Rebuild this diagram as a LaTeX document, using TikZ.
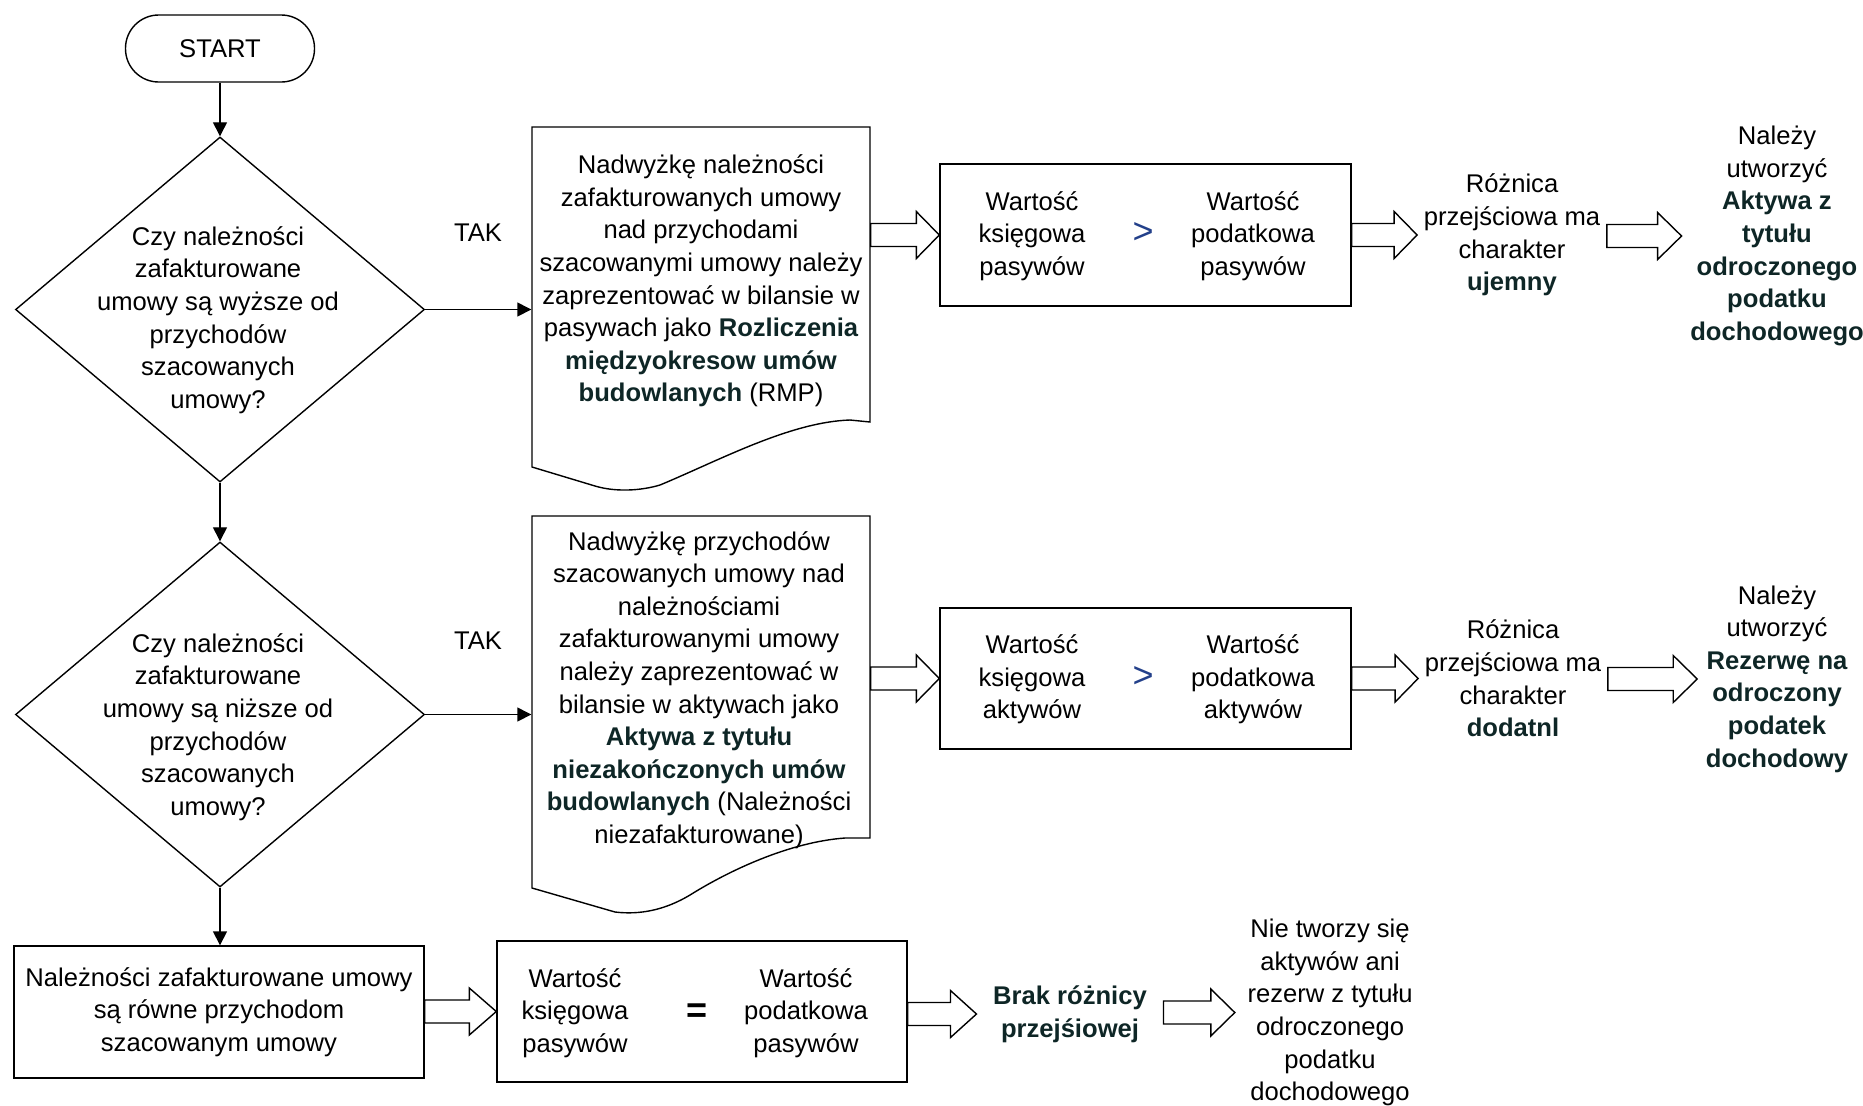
\documentclass[tikz,border=0pt]{standalone}
\usepackage{fontspec}
\setmainfont{Liberation Sans}
\usetikzlibrary{shapes.geometric,arrows.meta,calc}
\definecolor{boldc}{HTML}{0E2626}
\definecolor{gtc}{HTML}{23408A}
\newcommand{\bt}[1]{{\bfseries\color{boldc}#1}}
\newcommand{\blockarr}[3]{\draw[barrow] let \p1=#1, \p2=#2 in
  (\x1,\y2+5.75pt) -- (\x2-#3,\y2+5.75pt) -- (\x2-#3,\y2+11.75pt) -- (\x2,\y2)
  -- (\x2-#3,\y2-11.75pt) -- (\x2-#3,\y2-5.75pt) -- (\x1,\y2-5.75pt) -- cycle;}
\begin{document}
\begin{tikzpicture}[x=0.5pt,y=-0.5pt,line width=0.7pt,
  font=\fontsize{12.8}{16.3}\selectfont,
  lbl/.style={align=center,inner sep=0pt},
  box/.style={draw,rectangle,inner sep=0pt,align=center},
  terminal/.style={draw,rectangle,rounded corners=16.6pt,minimum width=94.5pt,minimum height=33.5pt,inner sep=0pt},
  dia/.style={draw,diamond,inner sep=0pt,minimum width=204.5pt,minimum height=172.5pt},
  area/.style={rectangle,inner sep=0pt,minimum width=169pt},
  conn/.style={-{Triangle[length=7pt,width=7pt]}},
  barrow/.style={draw,fill=white,line join=miter},
  gt/.style={inner sep=0pt,text=gtc,font=\fontsize{18}{18}\selectfont},
  eq/.style={inner sep=0pt,font=\fontsize{18}{18}\selectfont\bfseries}]
\useasboundingbox (0,0) rectangle (1863,1105);

% START and decisions
\node[terminal] (start) at (220,48.5) {START};
\node[dia] (d1) at (220,309.5) {};
\node[lbl] (d1t) at (218,320) {Czy należności\\zafakturowane\\umowy są wyższe od\\przychodów\\szacowanych\\umowy?};
\node[dia] (d2) at (220,714.5) {};
\node[lbl] (d2t) at (218,727) {Czy należności\\zafakturowane\\umowy są niższe od\\przychodów\\szacowanych\\umowy?};
\node[lbl] (tak1) at (478,233) {TAK};
\node[lbl] (tak2) at (478,641) {TAK};

% document shapes
\node[area,minimum height=170pt] (doc1) at (701,297) {};
\draw (532,127) -- (870,127) -- (870,422) -- (850,420)
  .. controls (790,422) and (720,460) .. (660,485)
  .. controls (640,491) and (615,492) .. (595,486) -- (532,467) -- cycle;
\node[lbl] (doc1t) at (701,281) {Nadwyżkę należności\\zafakturowanych umowy\\nad przychodami\\szacowanymi umowy należy\\zaprezentować w bilansie w\\pasywach jako \bt{Rozliczenia}\\\bt{międzyokresow umów}\\\bt{budowlanych} (RMP)};

\node[area,minimum height=186pt] (doc2) at (701,702) {};
\draw (532,516) -- (870,516) -- (870,838) -- (845,838)
  .. controls (790,842) and (730,870) .. (690,895)
  .. controls (665,910) and (640,915) .. (615,912) -- (532,888) -- cycle;
\node[lbl] (doc2t) at (699,690) {Nadwyżkę przychodów\\szacowanych umowy nad\\należnościami\\zafakturowanymi umowy\\należy zaprezentować w\\bilansie w aktywach jako\\\bt{Aktywa z tytułu}\\\bt{niezakończonych umów}\\\bt{budowlanych} (Należności\\niezafakturowane)};

% comparison boxes
\node[box,minimum width=205.5pt,minimum height=71pt] (r1) at (1145.5,235) {};
\node[lbl] (r1a) at (1032,236) {Wartość\\księgowa\\pasywów};
\node[gt] (r1g) at (1143,233) {>};
\node[lbl] (r1b) at (1253,236) {Wartość\\podatkowa\\pasywów};

\node[box,minimum width=205.5pt,minimum height=70.5pt] (r2) at (1145.5,678.5) {};
\node[lbl] (r2a) at (1032,679.5) {Wartość\\księgowa\\aktywów};
\node[gt] (r2g) at (1143,677) {>};
\node[lbl] (r2b) at (1253,679.5) {Wartość\\podatkowa\\aktywów};

\node[box,minimum width=205pt,minimum height=66pt] (r3) at (219,1012) {Należności zafakturowane umowy\\są równe przychodom\\szacowanym umowy};

\node[box,minimum width=205pt,minimum height=70.5pt] (r4) at (702,1011.5) {};
\node[lbl] (r4a) at (575,1013) {Wartość\\księgowa\\pasywów};
\node[eq] (r4e) at (697,1013) {=};
\node[lbl] (r4b) at (806,1013) {Wartość\\podatkowa\\pasywów};

% right-hand texts
\node[lbl,inner xsep=3pt] (ro1) at (1512,235) {Różnica\\przejściowa ma\\charakter\\\bt{ujemny}};
\node[lbl,inner xsep=4pt] (na1) at (1777,236) {Należy\\utworzyć\\\bt{Aktywa z}\\\bt{tytułu}\\\bt{odroczonego}\\\bt{podatku}\\\bt{dochodowego}};
\node[lbl,inner xsep=3pt] (ro2) at (1513,678.5) {Różnica\\przejściowa ma\\charakter\\\bt{dodatnl}};
\node[lbl,inner xsep=4pt] (na2) at (1777,679) {Należy\\utworzyć\\\bt{Rezerwę na}\\\bt{odroczony}\\\bt{podatek}\\\bt{dochodowy}};
\node[lbl,inner xsep=8pt] (br) at (1070,1014) {\bt{Brak różnicy}\\\bt{przejśiowej}};
\node[lbl,inner xsep=6pt] (nie) at (1330,1012.5) {Nie tworzy się\\aktywów ani\\rezerw z tytułu\\odroczonego\\podatku\\dochodowego};

% connectors
\draw[conn] (start) -- (d1);
\draw[conn] (d1) -- (d2);
\draw[conn] (d2.south) -- (d2.south |- r3.north);
\draw[conn] (d1.east) -- (d1.east -| doc1.west);
\draw[conn] (d2.east) -- (d2.east -| doc2.west);

\blockarr{(doc1.east)}{(r1.west)}{11.5pt}
\blockarr{(r1.east)}{(ro1.west)}{11.5pt}
\blockarr{(ro1.east)}{(na1.west)}{12pt}
\blockarr{(doc2.east)}{(r2.west)}{11.5pt}
\blockarr{(r2.east)}{(ro2.west)}{11.5pt}
\blockarr{(ro2.east)}{(na2.west)}{12pt}
\blockarr{(r3.east)}{(r4.west)}{13.5pt}
\blockarr{(r4.east)}{(br.west)}{13pt}
\blockarr{(br.east)}{(nie.west)}{12pt}
\end{tikzpicture}
\end{document}
